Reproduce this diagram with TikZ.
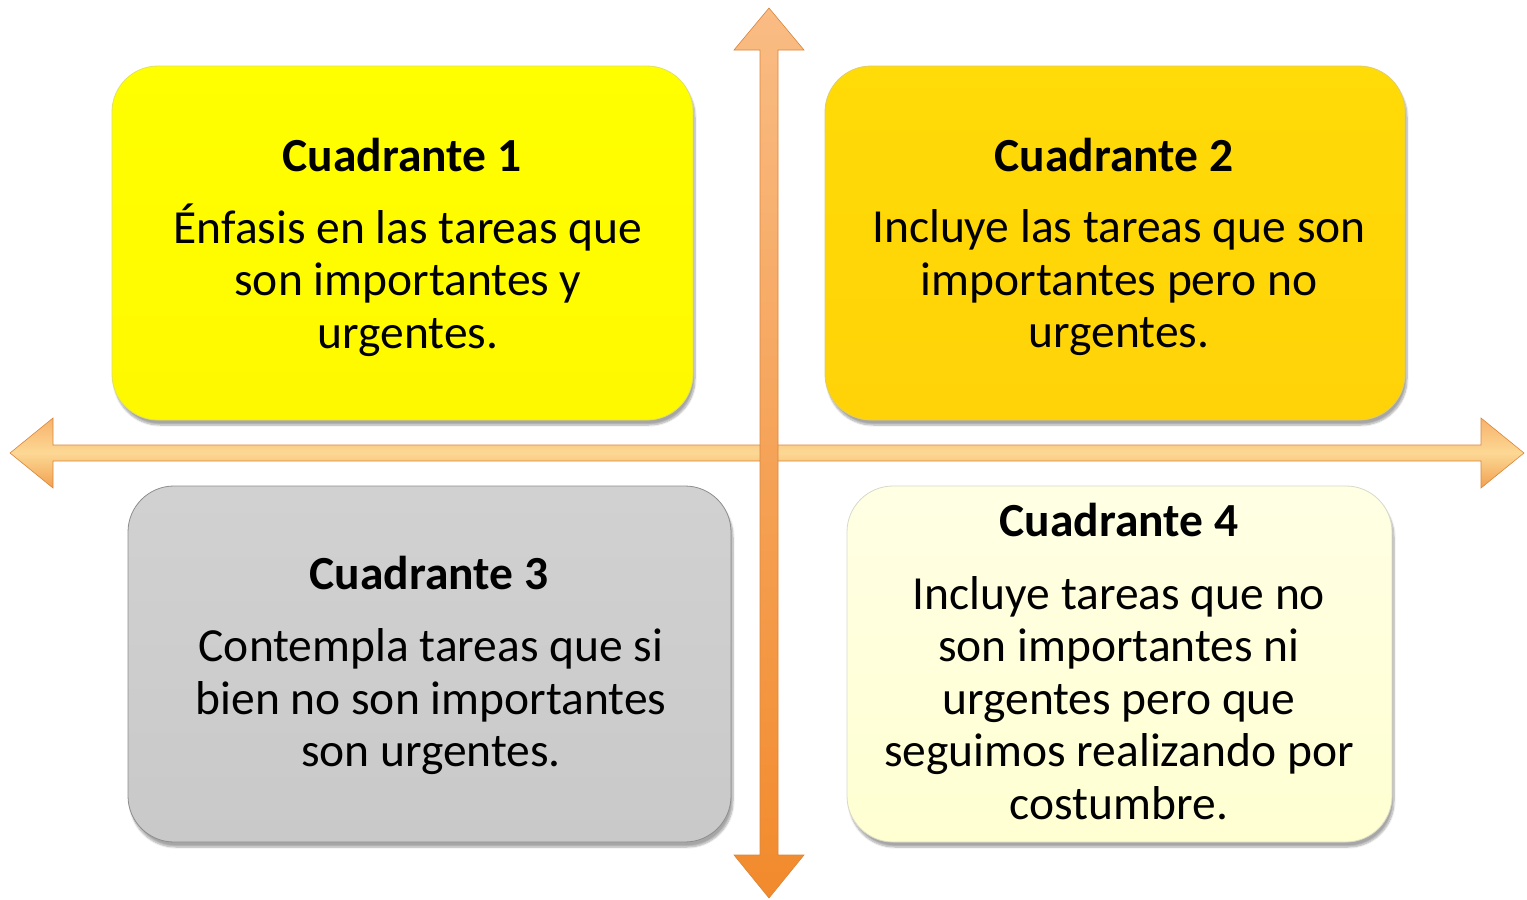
\documentclass[tikz,border=0pt]{standalone}
\usepackage{fontspec}
\setmainfont{Carlito}
\usetikzlibrary{shadows.blur}
\definecolor{qone}{HTML}{FFFF00}
\definecolor{qtwo}{HTML}{FFD708}
\definecolor{qthree}{HTML}{C9C9C9}
\definecolor{qfour}{HTML}{FFFFD2}
\definecolor{hztop}{HTML}{F7B26C}
\definecolor{hzmid}{HTML}{FCD894}
\definecolor{hzbot}{HTML}{F2A050}
\definecolor{vttop}{HTML}{F9BC84}
\definecolor{vtbot}{HTML}{F28A2C}
\definecolor{axedge}{HTML}{D9853A}
\tikzset{
  quad/.style={rounded corners=46pt, line width=0.8pt,
     blur shadow={shadow xshift=2pt, shadow yshift=-5pt, shadow blur steps=8, shadow opacity=35}},
  ttl/.style={font=\fontsize{47.5}{52.5}\selectfont\bfseries, text=black, inner sep=0pt},
  bodytxt/.style={font=\fontsize{47.5}{52.5}\selectfont, text=black, align=center, inner sep=0pt},
}
\begin{document}
\begin{tikzpicture}[x=1pt,y=-1pt]
\useasboundingbox (0,0) rectangle (1527,900);
% quadrant boxes
\path[quad, draw=qone!80!black!60, top color=qone, bottom color=qone!95!orange] (112,66) rectangle (693,420);
\path[quad, draw=qtwo!80!black!60, top color=qtwo!90!yellow, bottom color=qtwo!95!orange] (825,66) rectangle (1405,420);
\path[quad, draw=qthree!70!black, top color=qthree!85!white, bottom color=qthree] (128,486) rectangle (731,842);
\path[quad, draw=qfour!70!black!50, top color=qfour!60!white, bottom color=qfour] (847,486) rectangle (1392,842);

% horizontal axis
\path[draw=axedge, line width=0.6pt, top color=hztop, bottom color=hzbot, middle color=hzmid, line join=miter]
  (10,453) -- (53,418) -- (53,445) -- (1481,445) -- (1481,418) -- (1524,453)
  -- (1481,488) -- (1481,461) -- (53,461) -- (53,488) -- cycle;
% vertical axis
\path[draw=axedge, line width=0.6pt, top color=vttop, bottom color=vtbot, line join=miter]
  (769,8) -- (804,50) -- (778,50) -- (778,855) -- (804,855) -- (769,898)
  -- (734,855) -- (760,855) -- (760,50) -- (734,50) -- cycle;

% texts
\node[ttl] (t1) at (402,155) {Cuadrante 1};
\node[bodytxt] (x1) at (408,280) {Énfasis en las tareas que\\son importantes y\\urgentes.};
\node[ttl] (t2) at (1114,155) {Cuadrante 2};
\node[bodytxt] (x2) at (1119,283) {Incluye las tareas que son\\importantes pero no\\urgentes.};
\node[ttl] (t3) at (429,573) {Cuadrante 3};
\node[bodytxt] (x3) at (431,702) {Contempla tareas que si\\bien no son importantes\\son urgentes.};
\node[ttl] (t4) at (1119,520) {Cuadrante 4};
\node[bodytxt] (x4) at (1119,698) {Incluye tareas que no\\son importantes ni\\urgentes pero que\\seguimos realizando por\\costumbre.};
\end{tikzpicture}
\end{document}
